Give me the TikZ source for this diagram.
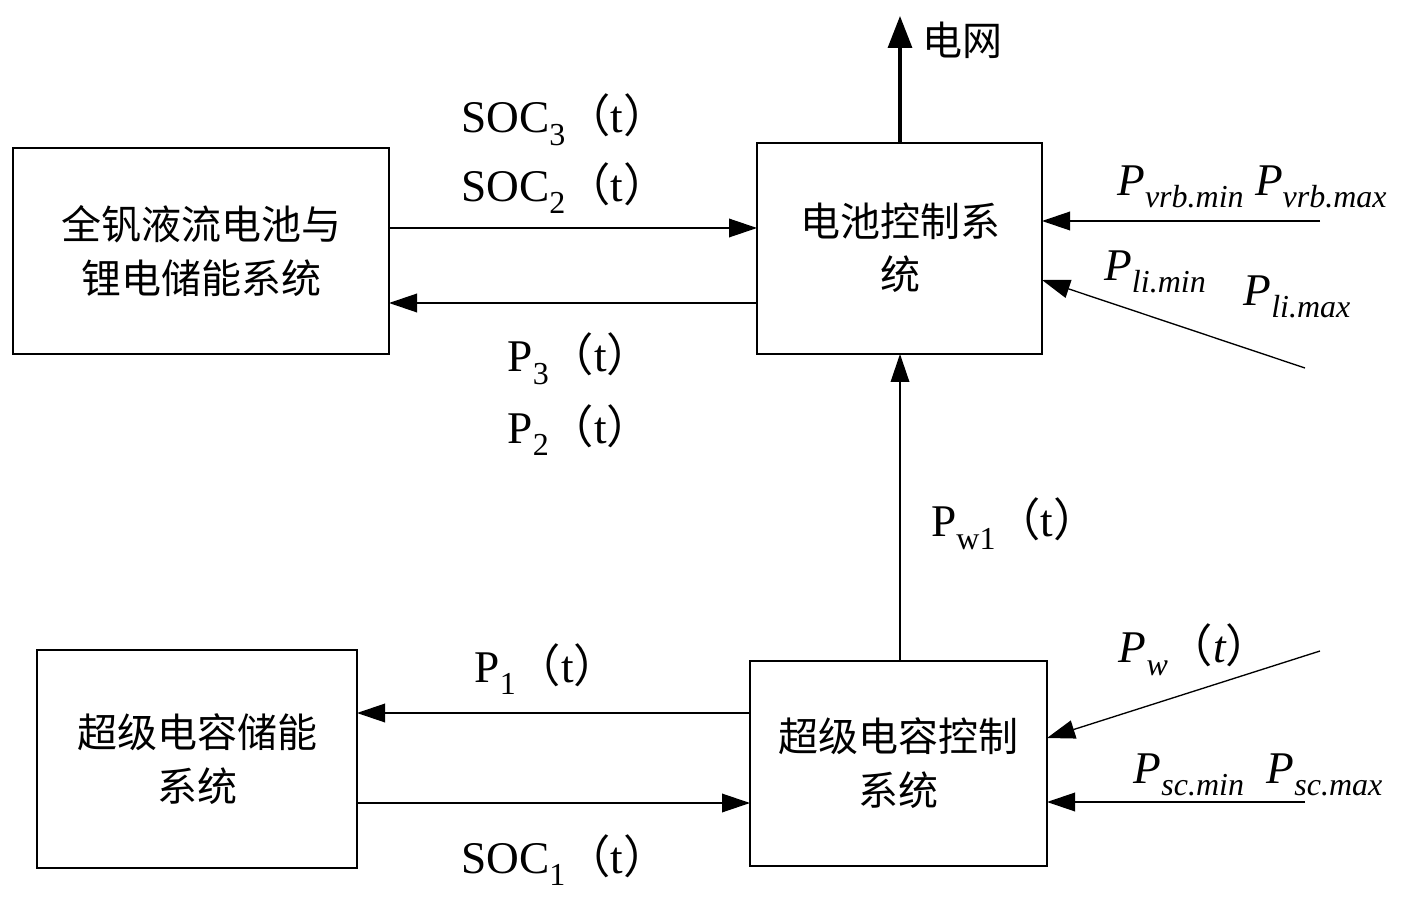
\documentclass[tikz,border=0pt]{standalone}
\usepackage{fontspec}
\setmainfont{Liberation Serif}
\newfontfamily\cjk{Noto Sans CJK SC}
\usetikzlibrary{arrows.meta}
\newcommand{\lp}{{\cjk （}}
\newcommand{\rp}{{\cjk ）}}
\newcommand{\mysub}[1]{\raisebox{-0.28em}{\fontsize{24}{24}\selectfont #1}}
\begin{document}
\begin{tikzpicture}[x=0.75pt,y=-0.75pt,
  box/.style={draw,line width=1pt},
  ar/.style={line width=1pt,-{Triangle[length=21pt,width=14pt]}},
  cn/.style={font=\cjk\fontsize{30}{40}\selectfont,align=center},
  lb/.style={font=\fontsize{34}{38}\selectfont,inner sep=0pt}]
\useasboundingbox (0,0) rectangle (1421,898);
\draw[box] (13,148) rectangle (389,354);
\node[cn] (A) at (201,251) {全钒液流电池与\\锂电储能系统};
\draw[box] (757,143) rectangle (1042,354);
\node[cn] (B) at (900,248) {电池控制系\\统};
\draw[box] (37,650) rectangle (357,868);
\node[cn] (C) at (197,759) {超级电容储能\\系统};
\draw[box] (750,661) rectangle (1047,866);
\node[cn] (D) at (898,763) {超级电容控制\\系统};
\coordinate (a1) at (389,228); \coordinate (b1) at (757,228);
\coordinate (a2) at (389,303); \coordinate (b2) at (757,303);
\draw[ar] (a1) -- (b1);
\draw[ar] (b2) -- (a2);
\coordinate (g0) at (900,143); \coordinate (g1) at (900,16);
\draw[line width=2.5pt,-{Triangle[length=24pt,width=18pt]}] (g0) -- (g1);
\node[cn,anchor=west] (grid) at (918,40) {电网};
\coordinate (d0) at (900,661); \coordinate (b3) at (900,354);
\draw[ar] (d0) -- (b3);
\coordinate (c1) at (357,713); \coordinate (d1) at (750,713);
\coordinate (c2) at (357,803); \coordinate (d2) at (750,803);
\draw[ar] (d1) -- (c1);
\draw[ar] (c2) -- (d2);
\coordinate (i1) at (1320,221); \coordinate (j1) at (1042,221);
\coordinate (i2) at (1305,368); \coordinate (j2) at (1042,280);
\coordinate (i3) at (1320,651); \coordinate (j3) at (1047,738);
\coordinate (i4) at (1305,802); \coordinate (j4) at (1047,802);
\draw[ar] (i1) -- (j1);
\draw[ar] (i2) -- (j2);
\draw[ar] (i3) -- (j3);
\draw[ar] (i4) -- (j4);
\node[lb] (l1) at (565,120) {SOC\mysub{3}\lp t\rp};
\node[lb] (l2) at (565,188) {SOC\mysub{2}\lp t\rp};
\node[lb] (l3) at (580,359) {P\mysub{3}\lp t\rp};
\node[lb] (l4) at (580,430) {P\mysub{2}\lp t\rp};
\node[lb] (l5) at (1015,524) {P\mysub{w1}\lp t\rp};
\node[lb] (l6) at (547,669) {P\mysub{1}\lp t\rp};
\node[lb] (l7) at (565,860) {SOC\mysub{1}\lp t\rp};
\node[lb] (l8) at (1252,187) {\itshape P\mysub{vrb.min} P\mysub{vrb.max}};
\node[lb] (l9) at (1155,272) {\itshape P\mysub{li.min}};
\node[lb] (l10) at (1297,297) {\itshape P\mysub{li.max}};
\node[lb] (l11) at (1195,650) {\itshape P\mysub{w}\lp t\rp};
\node[lb] (l12) at (1258,775) {\itshape P\mysub{sc.min}\ \ P\mysub{sc.max}};
\end{tikzpicture}
\end{document}
